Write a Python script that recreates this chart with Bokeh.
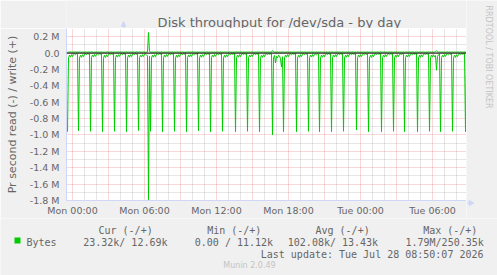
import math
from bokeh.plotting import figure
from bokeh.layouts import column, row
from bokeh.models import Range1d, FixedTicker, Grid, Span
from bokeh.core.properties import value
from bokeh.embed import file_html
from bokeh.resources import INLINE

TITLE = "Disk throughput for /dev/sda - by day"
Y_LABEL = "Pr second read (-) / write (+)"
X_TICKS = [0, 6, 12, 18, 24, 30]
X_TICK_LABELS = ["Mon 00:00", "Mon 06:00", "Mon 12:00", "Mon 18:00", "Tue 00:00", "Tue 06:00"]
Y_TICKS = [-1800000, -1600000, -1400000, -1200000, -1000000, -800000, -600000,
           -400000, -200000, 0, 200000]
Y_TICK_LABELS = ["-1.8 M", "-1.6 M", "-1.4 M", "-1.2 M", "-1.0 M", "-0.8 M", "-0.6 M",
                 "-0.4 M", "-0.2 M", "0.0", "0.2 M"]

# time axis in hours relative to Mon 00:00; 5-minute samples ending Tue 08:50
START_H = -0.5
STEP_H = 5.0 / 60.0

# read throughput, kB/s (drawn negative)
READ_K = [
    960, 58, 24, 50, 19, 42, 15, 10, 20, 8, 13,
    950, 60, 26, 52, 20, 44, 14, 9, 18, 7, 12, 10,
    955, 55, 23, 47, 18, 40, 16, 11, 21, 9, 14, 11,
    960, 62, 27, 53, 21, 45, 15, 10, 19, 8, 13, 9,
    955, 57, 25, 49, 19, 41, 14, 9, 20, 7, 12, 10,
    960, 59, 24, 51, 20, 43, 15, 10, 18, 8, 14, 11,
    945, 56, 26, 48, 19, 42, 16, 11, 22, 35, 1790, 40,
    955, 60, 25, 50, 20, 44, 15, 10, 19, 8, 13, 10,
    960, 58, 24, 49, 18, 41, 14, 9, 20, 7, 12, 11,
    955, 61, 26, 52, 21, 45, 16, 10, 18, 8, 13, 9,
    960, 57, 23, 48, 19, 42, 15, 11, 21, 9, 14, 0,
    950, 59, 25, 51, 20, 43, 14, 9, 19, 8, 12, 10,
    960, 56, 24, 49, 18, 40, 15, 10, 20, 7, 13, 11,
    955, 60, 26, 52, 21, 44, 16, 11, 18, 8, 14, 10, 9,
    960, 58, 25, 50, 19, 42, 15, 10, 19, 8, 12, 10,
    955, 57, 24, 48, 20, 41, 14, 9, 21, 7, 13, 11,
    960, 61, 27, 53, 20, 45, 16, 10, 18, 9, 14, 10, 8,
    1000, 55, 30, 120, 40, 60, 25, 35, 70, 170, 45,
    960, 58, 25, 50, 19, 43, 15, 10, 20, 8, 13, 10, 9,
    960, 60, 26, 51, 20, 44, 14, 9, 19, 7, 12, 10,
    955, 57, 24, 49, 18, 41, 16, 11, 21, 9, 13,
    960, 59, 25, 52, 21, 45, 15, 10, 18, 8, 14, 11,
    960, 56, 23, 48, 19, 42, 14, 9, 20, 7, 12, 10,
    955, 60, 26, 51, 20, 43, 15, 10, 19, 8, 13, 11, 9,
    940, 58, 24, 50, 19, 44, 16, 11, 21, 9, 14, 10,
    960, 61, 27, 53, 21, 45, 14, 9, 18, 7, 12, 10, 8,
    960, 57, 25, 49, 18, 41, 15, 10, 20, 8, 13, 11,
    955, 59, 24, 51, 20, 43, 16, 11, 19, 9, 14,
    960, 56, 26, 48, 19, 42, 14, 9, 21, 7, 12, 10, 9,
    960, 60, 25, 52, 21, 44, 15, 10, 18, 8, 13, 11,
    955, 58, 24, 50, 20, 45, 30, 210, 40, 20, 12,
    960, 57, 26, 49, 18, 41, 16, 11, 20, 9, 14, 10,
    955, 61, 25, 53, 20, 43, 15, 10, 19, 8, 12, 11, 9,
    960, 23.32,
]

# write throughput, kB/s (drawn positive)
WRITE_K = [
    12, 13, 12, 14, 12, 11.5, 13, 12, 15, 12, 13, 12, 14, 12, 12, 13, 11.5, 12, 14, 13,
    12, 14, 12, 13, 15, 12, 11.5, 13, 12, 14, 12, 13, 12, 12, 14, 13, 12, 11.5, 13, 12,
    14, 12, 13, 12, 15, 12, 12, 13, 11.5, 14, 12, 13, 12, 14, 12, 13, 12, 11.5, 13, 15,
    12, 13, 12, 14, 12, 12, 13, 11.5, 12, 14, 13, 12, 15, 12, 13, 12, 14, 12, 11.5, 13,
    14, 250.35, 20, 13, 12, 14, 12, 11.5, 13, 12, 15, 12, 13, 12, 14, 12, 12, 13, 11.5, 12,
    13, 12, 14, 12, 13, 15, 12, 11.5, 13, 12, 14, 12, 13, 12, 12, 14, 13, 12, 11.5, 13,
    12, 14, 12, 13, 12, 15, 12, 12, 13, 11.12, 14, 12, 13, 12, 14, 12, 13, 12, 11.5, 13,
    15, 12, 13, 12, 14, 12, 12, 13, 11.5, 12, 14, 13, 12, 15, 12, 13, 12, 14, 12, 11.5,
    13, 12, 14, 12, 13, 12, 11.5, 13, 12, 15, 12, 13, 12, 14, 12, 12, 13, 11.5, 12, 14,
    13, 12, 14, 12, 13, 15, 12, 11.5, 13, 12, 14, 12, 13, 12, 12, 14, 13, 12, 11.5, 13,
    12, 14, 12, 13, 12, 30, 16, 12, 13, 11.5, 14, 12, 13, 12, 14, 12, 13, 12, 11.5, 13,
    15, 12, 13, 12, 14, 12, 12, 13, 11.5, 12, 14, 13, 12, 15, 12, 13, 12, 14, 12, 11.5,
    13, 12, 14, 12, 13, 12, 11.5, 13, 12, 15, 12, 13, 12, 14, 12, 12, 13, 11.5, 12, 14,
    13, 12, 14, 12, 13, 15, 12, 11.5, 13, 12, 14, 12, 13, 12, 12, 14, 13, 12, 11.5, 13,
    12, 14, 12, 13, 12, 15, 12, 12, 13, 11.5, 14, 12, 13, 12, 14, 12, 13, 12, 11.5, 13,
    15, 12, 13, 12, 14, 12, 12, 13, 11.5, 12, 14, 13, 12, 15, 12, 13, 12, 14, 12, 11.5,
    13, 12, 14, 12, 13, 12, 11.5, 13, 12, 15, 12, 13, 12, 14, 12, 12, 13, 11.5, 12, 14,
    13, 12, 14, 12, 13, 15, 12, 11.5, 13, 12, 14, 12, 13, 12, 12, 14, 13, 12, 11.5, 13,
    12, 14, 12, 13, 12, 15, 12, 13, 16, 28, 14, 12, 13, 12, 14, 12, 13, 12, 11.5, 13,
    15, 12, 13, 12, 14, 12, 12, 13, 11.5, 12, 14, 13, 12, 15, 12, 13, 12, 14, 12, 12.69,
]

SERIES_NAME = "Bytes"
LEGEND_HEAD = ["Cur (-/+)", "Min (-/+)", "Avg (-/+)", "Max (-/+)"]
LEGEND_VALUES = ["23.32k/ 12.69k", "0.00 / 11.12k", "102.08k/ 13.43k", "1.79M/250.35k"]
LAST_UPDATE = "Last update: Tue Jul 28 08:50:07 2026"
FOOTER = "Munin 2.0.49"
WATERMARK = "RRDTOOL / TOBI OETIKER"

# ---------------------------------------------------------------------------
W, H = 497, 275
FL, FT, FW, FH = 66, 28, 400, 175          # plot frame in window pixels
MAIN_W = FL + FW                           # 466
MAIN_BOTTOM = 15
MAIN_H = FH + MAIN_BOTTOM                  # 190
UPPER_H = FT + MAIN_H                      # 218
LEG_H = H - UPPER_H                        # 57
RIGHT_W = W - MAIN_W                       # 31

X0, X1 = -0.5, 32.0 + 50.0 / 60.0
Y0, Y1 = -1800000, 300000

BG = "#F0F0F0"
GREEN = "#00CC00"
FONT_C = "#666666"
AXIS_C = "#CFD6F8"
FAINT_C = "#C4C4C4"
SANS = "DejaVu Sans"
MONO = "DejaVu Sans Mono"

# ---------------- main plot ----------------
p = figure(width=MAIN_W, height=MAIN_H, x_range=Range1d(X0, X1), y_range=Range1d(Y0, Y1),
           output_backend="svg", toolbar_location=None, title=None,
           min_border_left=FL, min_border_right=0, min_border_top=0,
           min_border_bottom=MAIN_BOTTOM,
           background_fill_color="white", border_fill_color=BG,
           outline_line_color=None)

p.xgrid.grid_line_color = None
p.ygrid.grid_line_color = None
hours = list(range(0, 33))
minor_h = [h for h in hours if h % 3 != 0]
major_h = [h for h in hours if h % 3 == 0]
minor_y = [k * 100000 for k in range(-17, 4, 2)]
GRID_C, GRID_A = "#8F8F8F", 0.45
MGRID_C, MGRID_A = "#DE4F4F", 0.45
for dim, ticks, col, a in [(0, minor_h, GRID_C, GRID_A), (1, minor_y, GRID_C, GRID_A),
                           (0, major_h, MGRID_C, MGRID_A), (1, Y_TICKS, MGRID_C, MGRID_A)]:
    p.add_layout(Grid(dimension=dim, ticker=FixedTicker(ticks=ticks), grid_line_color=col,
                      grid_line_alpha=a, grid_line_dash="1 1", grid_line_width=1))

n = min(len(READ_K), len(WRITE_K))
xs = [START_H + STEP_H * (i + 1) for i in range(n)]
p.line(xs, [-v * 1000 for v in READ_K[:n]], line_color=GREEN, line_width=1)
p.line(xs, [v * 1000 for v in WRITE_K[:n]], line_color=GREEN, line_width=1)
p.add_layout(Span(location=0, dimension="width", line_color="black", line_width=1))

for ax in (p.xaxis[0], p.yaxis[0]):
    ax.axis_line_color = AXIS_C
    ax.major_tick_line_color = None
    ax.minor_tick_line_color = None
    ax.major_tick_out = 0
    ax.major_tick_in = 0
    ax.major_label_text_font = SANS
    ax.major_label_text_font_size = "9.5px"
    ax.major_label_text_color = FONT_C

p.xaxis.ticker = FixedTicker(ticks=X_TICKS)
p.xaxis.major_label_overrides = dict(zip(X_TICKS, X_TICK_LABELS))
p.xaxis.major_label_standoff = 4
p.yaxis.ticker = FixedTicker(ticks=Y_TICKS)
p.yaxis.major_label_overrides = dict(zip(Y_TICKS, Y_TICK_LABELS))
p.yaxis.major_label_standoff = 7
p.yaxis.axis_label = Y_LABEL
p.yaxis.axis_label_text_font = SANS
p.yaxis.axis_label_text_font_size = "11px"
p.yaxis.axis_label_text_font_style = "normal"
p.yaxis.axis_label_text_color = FONT_C
p.yaxis.axis_label_standoff = 8


# ---------------- decoration canvases (pixel coordinates) ----------------
def canvas(w, h):
    f = figure(width=w, height=h, x_range=Range1d(0, w), y_range=Range1d(0, h),
               output_backend="svg", toolbar_location=None, title=None,
               x_axis_type=None, y_axis_type=None, min_border=0,
               background_fill_color=BG, border_fill_color=BG, outline_line_color=None)
    return f


def put(f, top, h, text, px, py, size, color, font=SANS, align="left",
        baseline="alphabetic", angle=0.0):
    f.text(x=[px], y=[h - (py - top)], text=[text], text_font=value(font),
           text_font_size=f"{size}px", text_color=color, text_align=align,
           text_baseline=baseline, angle=angle)


# top strip: title and y-axis arrow
top = canvas(MAIN_W, FT)
put(top, 0, FT, TITLE, 248, 21.5, 13, FONT_C, align="center")
ax_x = FL + 0.5
top.segment(x0=[ax_x], y0=[0], x1=[ax_x], y1=[FT - 26], line_color=AXIS_C, line_width=1)
top.patch(x=[ax_x - 2.5, ax_x, ax_x + 2.5], y=[FT - 26, FT - 21, FT - 26],
          fill_color=AXIS_C, line_color=AXIS_C)

# right strip: watermark and x-axis arrow
right = canvas(RIGHT_W, UPPER_H)
put(right, 0, UPPER_H, WATERMARK, 488 - MAIN_W, 5, 8, FAINT_C, align="left",
    baseline="middle", angle=-math.pi / 2)
ay = UPPER_H - (FT + FH) + 0.5
right.segment(x0=[0], y0=[ay], x1=[2.5], y1=[ay], line_color=AXIS_C, line_width=1)
right.patch(x=[2.5, 7.5, 2.5], y=[ay - 2.5, ay, ay + 2.5], fill_color=AXIS_C,
            line_color=AXIS_C)

# bottom strip: legend
leg = canvas(W, LEG_H)
head_x = [98, 206.7, 315, 422.7]
val_x = [82.7, 194.3, 287.3, 405]
for t, x in zip(LEGEND_HEAD, head_x):
    put(leg, UPPER_H, LEG_H, t, x, 229.5, 10, FONT_C, font=MONO)
leg.quad(left=[14], right=[20], top=[LEG_H - (237 - UPPER_H)],
         bottom=[LEG_H - (243 - UPPER_H)], fill_color=GREEN, line_color=None)
put(leg, UPPER_H, LEG_H, SERIES_NAME, 26, 241.5, 10, FONT_C, font=MONO)
for t, x in zip(LEGEND_VALUES, val_x):
    put(leg, UPPER_H, LEG_H, t, x, 241.5, 10, FONT_C, font=MONO)
put(leg, UPPER_H, LEG_H, LAST_UPDATE, 483, 253.5, 10, FONT_C, font=MONO, align="right")
put(leg, UPPER_H, LEG_H, FOOTER, 249, 264.5, 8, FAINT_C, align="center")

layout = column(row(column(top, p), right), leg)

open("out.html", "w").write(file_html(layout, INLINE))
